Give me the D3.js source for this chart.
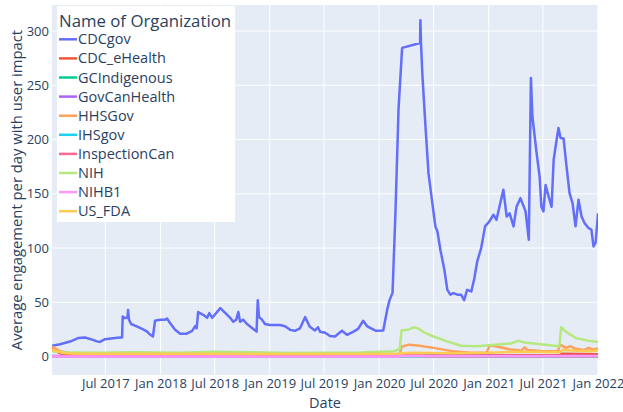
<!DOCTYPE html>
<html lang="en">
<head>
<meta charset="UTF-8">
<title>Average engagement per day</title>
<script src="https://d3js.org/d3.v7.min.js"></script>
<style>
  body { margin: 0; background: #fff; }
  text { font-family: "Open Sans", sans-serif; fill: #2a3f5f; }
</style>
</head>
<body>
<svg id="chart" width="623" height="412"></svg>
<script>
// ---- data ----
const orgNames = ["CDCgov", "CDC_eHealth", "GCIndigenous", "GovCanHealth", "HHSGov",
                  "IHSgov", "InspectionCan", "NIH", "NIHB1", "US_FDA"];
const orgColors = ["#636efa", "#EF553B", "#00cc96", "#ab63fa", "#FFA15A",
                   "#19d3f3", "#FF6692", "#B6E880", "#FF97FF", "#FECB52"];

const cdcDates = ["2017-01-04","2017-01-31","2017-03-05","2017-04-01","2017-04-24","2017-05-21","2017-06-03","2017-06-13",
  "2017-06-30","2017-08-03","2017-08-19","2017-08-26","2017-08-28","2017-09-05","2017-09-13","2017-09-15","2017-09-18",
  "2017-09-25","2017-10-12","2017-11-01","2017-11-18","2017-11-24","2017-12-07","2017-12-14","2017-12-31","2018-01-17",
  "2018-01-23","2018-02-02","2018-02-19","2018-03-08","2018-03-28","2018-04-17","2018-04-27","2018-05-02","2018-05-07",
  "2018-05-24","2018-06-06","2018-06-13","2018-06-23","2018-07-20","2018-08-06","2018-08-22","2018-09-01","2018-09-11",
  "2018-09-18","2018-09-24","2018-10-04","2018-10-17","2018-11-03","2018-11-18","2018-11-22","2018-11-26","2018-12-06",
  "2018-12-16","2019-01-02","2019-02-04","2019-02-21","2019-03-10","2019-03-26","2019-04-12","2019-04-29","2019-05-15",
  "2019-06-01","2019-06-11","2019-06-18","2019-07-05","2019-07-21","2019-08-07","2019-08-30","2019-09-16","2019-10-06",
  "2019-10-23","2019-11-09","2019-11-22","2019-12-02","2019-12-22","2020-01-15","2020-01-28","2020-02-05","2020-02-15",
  "2020-02-25","2020-03-06","2020-03-18","2020-05-17","2020-05-18","2020-05-20","2020-05-25","2020-06-04","2020-06-14",
  "2020-06-24","2020-07-07","2020-07-14","2020-07-24","2020-08-06","2020-08-16","2020-08-26","2020-09-05","2020-09-18",
  "2020-10-01","2020-10-11","2020-10-21","2020-11-04","2020-11-14","2020-11-24","2020-12-07","2020-12-20","2021-01-03",
  "2021-01-17","2021-01-27","2021-02-19","2021-03-02","2021-03-12","2021-03-25","2021-04-04","2021-04-17","2021-05-04",
  "2021-05-15","2021-05-22","2021-05-27","2021-06-10","2021-06-20","2021-06-26","2021-07-03","2021-07-10","2021-07-20",
  "2021-07-30","2021-08-06","2021-08-16","2021-08-22","2021-08-29","2021-09-08","2021-09-18","2021-09-28","2021-10-08",
  "2021-10-18","2021-10-28","2021-11-07","2021-11-17","2021-11-30","2021-12-10","2021-12-17","2021-12-24","2022-01-01"];
const cdcValues = [10,11.4,13.8,17,17.5,15.4,14,13.5,
  16,17,17.5,17.5,37,35.4,36,43,34,
  30,28,25.5,23,21,18.5,33,34,34,
  35,31,24.6,21,21,23.7,28,26,41,
  38.5,35.7,40,35.7,44.6,40,35.7,32,34,
  41,32,34,30,26.4,23,52,36.6,34,
  30,29,29,28,24.6,23.7,26,36.3,27.4,
  24,27,22.8,21.9,19,18.5,23.7,20,22.8,
  25.5,33,28,26.4,23.7,24,43,52,58.7,
  135,228,284.5,289,310,289,258,212,169,
  147.6,120,115,98,80,61.5,57,58.5,57,
  57,52,61.5,60,72,88,100,120,124.5,
  130.7,126,153.8,129,132,120,138,146,134,
  107.6,256.8,221,187.6,166,138,133.8,158,147.6,
  138,181.5,200,210.7,201.5,201,175,150.7,141.5,
  120,144.6,129,123,118.5,117,101.5,105,132];

const nihDates = ["2017-01-04","2017-02-15","2017-06-01","2017-10-01","2018-03-01","2018-07-01","2018-11-01","2019-03-01",
  "2019-07-01","2019-11-01","2020-02-20","2020-03-10","2020-03-16","2020-04-10","2020-04-25","2020-05-10","2020-06-01",
  "2020-07-01","2020-08-15","2020-10-01","2020-11-15","2020-12-15","2021-02-01","2021-03-15","2021-04-10","2021-05-01",
  "2021-06-15","2021-08-25","2021-08-31","2021-09-15","2021-10-20","2021-12-01","2022-01-01"];
const nihValues = [5,4,3.5,4,3.5,4.5,4,3.3,
  3.6,3.8,5,7,24,25,27,26,22,
  18.5,14,10,9.5,10,11,12,14.5,13,
  11.5,9.5,27,23,17,14.5,13.5];

const hhsDates = ["2017-01-04","2017-02-01","2017-03-15","2017-06-01","2018-06-01","2019-06-01","2020-03-10","2020-03-16",
  "2020-04-10","2020-05-15","2020-07-01","2020-09-01","2020-11-01","2020-12-25","2021-01-05","2021-02-01","2021-03-15",
  "2021-04-20","2021-05-01","2021-05-10","2021-07-01","2021-08-20","2021-08-28","2021-09-15","2021-10-01","2021-10-15",
  "2021-11-15","2021-12-01","2021-12-15","2022-01-01"];
const hhsValues = [9,5,2.5,1.5,1.6,1.4,2,9,
  11,10,8,5,3.5,3.5,10.5,9,6.5,
  5.5,8.5,6,5,5,11,8,9.5,7.5,
  6,8,6.5,7.5];

const fdaDates = ["2017-01-04","2017-02-15","2017-05-01","2018-06-01","2019-06-01","2020-03-01","2020-04-15","2020-09-01",
  "2021-01-01","2021-04-01","2021-08-25","2021-09-05","2021-12-01","2022-01-01"];
const fdaValues = [6,3,2.5,2.6,2.3,2.5,3.5,3,3.5,4.5,4,6,5,5.5];

const eHealthDates = ["2017-01-04","2017-02-01","2017-04-01","2018-06-01","2019-09-01","2020-03-10","2020-04-01",
  "2020-12-01","2021-08-25","2021-09-01","2022-01-01"];
const eHealthValues = [7,3,1,0.8,0.7,0.8,1.5,1.2,1.2,2.5,2.2];

const gcDates = ["2017-01-04","2019-01-01","2020-03-15","2022-01-01"];
const gcValues = [0.2,0.2,0.3,0.3];

const govCanDates = ["2017-01-04","2018-06-01","2020-03-15","2022-01-01"];
const govCanValues = [0.4,0.4,0.5,0.4];

const ihsDates = ["2017-01-04","2019-01-01","2020-04-01","2022-01-01"];
const ihsValues = [0.3,0.3,0.4,0.3];

const inspDates = ["2017-01-04","2020-03-10","2020-03-15","2020-05-20","2020-06-01","2022-01-01"];
const inspValues = [0.3,0.3,1.5,1.3,0.3,0.3];

const nihb1Dates = ["2017-01-04","2020-03-10","2020-03-15","2021-06-01","2022-01-01"];
const nihb1Values = [0.1,0.1,0.6,0.5,0.6];

const seriesDates = [cdcDates, eHealthDates, gcDates, govCanDates, hhsDates, ihsDates, inspDates, nihDates, nihb1Dates, fdaDates];
const seriesValues = [cdcValues, eHealthValues, gcValues, govCanValues, hhsValues, ihsValues, inspValues, nihValues, nihb1Values, fdaValues];

const yTicks = [0, 50, 100, 150, 200, 250, 300];

// ---- layout ----
const svg = d3.select("#chart");
const margin = { top: 5, right: 25, bottom: 37, left: 52 };
const width = 623, height = 412;
const plotW = width - margin.left - margin.right;
const plotH = height - margin.top - margin.bottom;

const parse = d3.timeParse("%Y-%m-%d");
const series = orgNames.map((name, i) => ({
  name: name,
  color: orgColors[i],
  points: seriesDates[i].map((d, j) => ({ date: parse(d), value: seriesValues[i][j] }))
}));

const allDates = series.flatMap(s => s.points.map(p => p.date));
const x = d3.scaleTime().domain(d3.extent(allDates)).range([0, plotW]);
const y = d3.scaleLinear().domain([-17, 324]).range([plotH, 0]);

const g = svg.append("g").attr("transform", `translate(${margin.left},${margin.top})`);

g.append("rect").attr("width", plotW).attr("height", plotH).attr("fill", "#E5ECF6");

// grid
const xTicks = x.ticks(d3.timeMonth.every(6)).filter(d => d > x.domain()[0]);
g.append("g").selectAll("line").data(xTicks).join("line")
  .attr("x1", d => x(d)).attr("x2", d => x(d))
  .attr("y1", 0).attr("y2", plotH)
  .attr("stroke", "#fff").attr("stroke-width", 1);
g.append("g").selectAll("line").data(yTicks).join("line")
  .attr("x1", 0).attr("x2", plotW)
  .attr("y1", d => y(d)).attr("y2", d => y(d))
  .attr("stroke", "#fff").attr("stroke-width", d => d === 0 ? 2 : 1);

// axes
const xAxis = d3.axisBottom(x).tickValues(xTicks).tickFormat(d3.timeFormat("%b %Y")).tickSize(0).tickPadding(4);
const xg = g.append("g").attr("transform", `translate(0,${plotH})`).call(xAxis);
const yAxis = d3.axisLeft(y).tickValues(yTicks).tickSize(0).tickPadding(3);
const yg = g.append("g").call(yAxis);
[xg, yg].forEach(a => {
  a.select(".domain").remove();
  a.selectAll("text").style("font-size", "13px").attr("fill", "#2a3f5f");
});

// lines
svg.append("clipPath").attr("id", "plotclip")
  .append("rect").attr("width", plotW).attr("height", plotH);
const line = d3.line().x(d => x(d.date)).y(d => y(d.value));
g.append("g").attr("clip-path", "url(#plotclip)")
  .selectAll("path").data(series).join("path")
  .attr("d", d => line(d.points))
  .attr("fill", "none")
  .attr("stroke", d => d.color)
  .attr("stroke-width", 2.5)
  .attr("stroke-linejoin", "round");

// axis titles
svg.append("text")
  .attr("x", margin.left + plotW / 2).attr("y", 408)
  .attr("text-anchor", "middle").style("font-size", "14.5px")
  .text("Date");
svg.append("text")
  .attr("transform", `translate(22,${margin.top + plotH / 2}) rotate(-90)`)
  .attr("text-anchor", "middle").style("font-size", "14.8px")
  .text("Average engagement per day with user impact");

// legend
const legend = svg.append("g").attr("transform", "translate(57,6)");
legend.append("rect").attr("width", 178).attr("height", 216).attr("fill", "#fff");
legend.append("text").attr("x", 2).attr("y", 20.5).style("font-size", "16.8px")
  .text("Name of Organization");
const items = legend.selectAll("g.item").data(series).join("g")
  .attr("class", "item")
  .attr("transform", (d, i) => `translate(0,${33.3 + i * 19.1})`);
items.append("line").attr("x1", 2).attr("x2", 20)
  .attr("stroke", d => d.color).attr("stroke-width", 2.5);
items.append("text").attr("x", 21).attr("y", 5).style("font-size", "14.5px")
  .text(d => d.name);
</script>
</body>
</html>
